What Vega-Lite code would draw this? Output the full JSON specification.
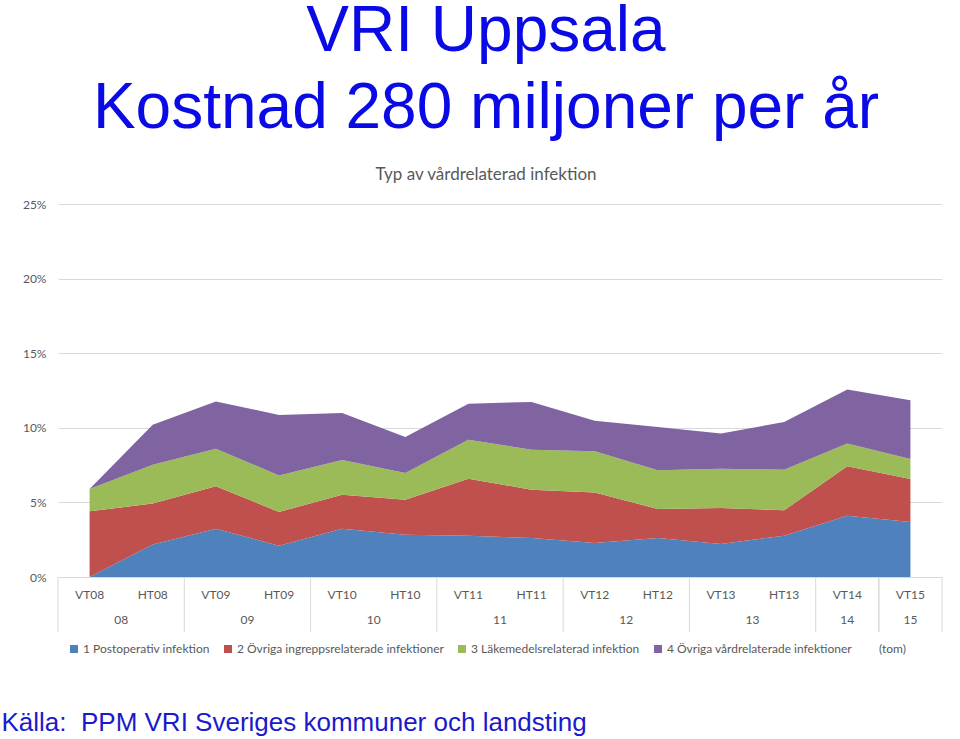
{
  "$schema": "https://vega.github.io/schema/vega-lite/v6.json",
  "background": "white",
  "padding": {"left": 1, "top": 0, "right": 5, "bottom": 0},
  "title": {
    "text": "Källa:\u00a0 PPM VRI Sveriges kommuner och landsting",
    "orient": "bottom",
    "anchor": "start",
    "dx": -21,
    "font": "Liberation Sans",
    "fontSize": 26,
    "fontWeight": "normal",
    "color": "#1a1acc",
    "offset": 45
  },
  "datasets": {
    "vri": [
      {"period": "VT08", "series": "1 Postoperativ infektion", "value": 0},
      {"period": "VT08", "series": "2 Övriga ingreppsrelaterade infektioner", "value": 4.4},
      {"period": "VT08", "series": "3 Läkemedelsrelaterad infektion", "value": 1.5},
      {"period": "VT08", "series": "4 Övriga vårdrelaterade infektioner", "value": 0},
      {"period": "HT08", "series": "1 Postoperativ infektion", "value": 2.17},
      {"period": "HT08", "series": "2 Övriga ingreppsrelaterade infektioner", "value": 2.75},
      {"period": "HT08", "series": "3 Läkemedelsrelaterad infektion", "value": 2.61},
      {"period": "HT08", "series": "4 Övriga vårdrelaterade infektioner", "value": 2.68},
      {"period": "VT09", "series": "1 Postoperativ infektion", "value": 3.24},
      {"period": "VT09", "series": "2 Övriga ingreppsrelaterade infektioner", "value": 2.84},
      {"period": "VT09", "series": "3 Läkemedelsrelaterad infektion", "value": 2.52},
      {"period": "VT09", "series": "4 Övriga vårdrelaterade infektioner", "value": 3.17},
      {"period": "HT09", "series": "1 Postoperativ infektion", "value": 2.1},
      {"period": "HT09", "series": "2 Övriga ingreppsrelaterade infektioner", "value": 2.26},
      {"period": "HT09", "series": "3 Läkemedelsrelaterad infektion", "value": 2.45},
      {"period": "HT09", "series": "4 Övriga vårdrelaterade infektioner", "value": 4.05},
      {"period": "VT10", "series": "1 Postoperativ infektion", "value": 3.24},
      {"period": "VT10", "series": "2 Övriga ingreppsrelaterade infektioner", "value": 2.28},
      {"period": "VT10", "series": "3 Läkemedelsrelaterad infektion", "value": 2.32},
      {"period": "VT10", "series": "4 Övriga vårdrelaterade infektioner", "value": 3.15},
      {"period": "HT10", "series": "1 Postoperativ infektion", "value": 2.84},
      {"period": "HT10", "series": "2 Övriga ingreppsrelaterade infektioner", "value": 2.34},
      {"period": "HT10", "series": "3 Läkemedelsrelaterad infektion", "value": 1.79},
      {"period": "HT10", "series": "4 Övriga vårdrelaterade infektioner", "value": 2.41},
      {"period": "VT11", "series": "1 Postoperativ infektion", "value": 2.77},
      {"period": "VT11", "series": "2 Övriga ingreppsrelaterade infektioner", "value": 3.82},
      {"period": "VT11", "series": "3 Läkemedelsrelaterad infektion", "value": 2.61},
      {"period": "VT11", "series": "4 Övriga vårdrelaterade infektioner", "value": 2.42},
      {"period": "HT11", "series": "1 Postoperativ infektion", "value": 2.61},
      {"period": "HT11", "series": "2 Övriga ingreppsrelaterade infektioner", "value": 3.24},
      {"period": "HT11", "series": "3 Läkemedelsrelaterad infektion", "value": 2.68},
      {"period": "HT11", "series": "4 Övriga vårdrelaterade infektioner", "value": 3.2},
      {"period": "VT12", "series": "1 Postoperativ infektion", "value": 2.28},
      {"period": "VT12", "series": "2 Övriga ingreppsrelaterade infektioner", "value": 3.39},
      {"period": "VT12", "series": "3 Läkemedelsrelaterad infektion", "value": 2.75},
      {"period": "VT12", "series": "4 Övriga vårdrelaterade infektioner", "value": 2.06},
      {"period": "HT12", "series": "1 Postoperativ infektion", "value": 2.61},
      {"period": "HT12", "series": "2 Övriga ingreppsrelaterade infektioner", "value": 1.95},
      {"period": "HT12", "series": "3 Läkemedelsrelaterad infektion", "value": 2.59},
      {"period": "HT12", "series": "4 Övriga vårdrelaterade infektioner", "value": 2.9},
      {"period": "VT13", "series": "1 Postoperativ infektion", "value": 2.21},
      {"period": "VT13", "series": "2 Övriga ingreppsrelaterade infektioner", "value": 2.41},
      {"period": "VT13", "series": "3 Läkemedelsrelaterad infektion", "value": 2.64},
      {"period": "VT13", "series": "4 Övriga vårdrelaterade infektioner", "value": 2.35},
      {"period": "HT13", "series": "1 Postoperativ infektion", "value": 2.77},
      {"period": "HT13", "series": "2 Övriga ingreppsrelaterade infektioner", "value": 1.7},
      {"period": "HT13", "series": "3 Läkemedelsrelaterad infektion", "value": 2.72},
      {"period": "HT13", "series": "4 Övriga vårdrelaterade infektioner", "value": 3.2},
      {"period": "VT14", "series": "1 Postoperativ infektion", "value": 4.11},
      {"period": "VT14", "series": "2 Övriga ingreppsrelaterade infektioner", "value": 3.31},
      {"period": "VT14", "series": "3 Läkemedelsrelaterad infektion", "value": 1.52},
      {"period": "VT14", "series": "4 Övriga vårdrelaterade infektioner", "value": 3.62},
      {"period": "VT15", "series": "1 Postoperativ infektion", "value": 3.69},
      {"period": "VT15", "series": "2 Övriga ingreppsrelaterade infektioner", "value": 2.88},
      {"period": "VT15", "series": "3 Läkemedelsrelaterad infektion", "value": 1.34},
      {"period": "VT15", "series": "4 Övriga vårdrelaterade infektioner", "value": 3.93}
    ],
    "yearsPair": [
      {"period": "VT08", "year": "08"},
      {"period": "VT09", "year": "09"},
      {"period": "VT10", "year": "10"},
      {"period": "VT11", "year": "11"},
      {"period": "VT12", "year": "12"},
      {"period": "VT13", "year": "13"}
    ],
    "yearsSingle": [
      {"period": "VT14", "year": "14"},
      {"period": "VT15", "year": "15"}
    ]
  },
  "vconcat": [
    {
      "width": 884,
      "height": 373,
      "title": {
        "text": ["VRI Uppsala", "Kostnad 280 miljoner per år"],
        "font": "Liberation Sans",
        "fontSize": 64,
        "fontWeight": "normal",
        "lineHeight": 77,
        "color": "#0a0ae6",
        "anchor": "middle",
        "dx": -14,
        "subtitle": "Typ av vårdrelaterad infektion",
        "subtitleFont": "Lato",
        "subtitleFontSize": 17,
        "subtitleColor": "#595959",
        "subtitlePadding": 26,
        "offset": 15
      },
      "layer": [
        {
          "data": {"name": "vri"},
          "mark": {"type": "area"},
          "encoding": {
            "x": {
              "field": "period",
              "type": "nominal",
              "bandPosition": 0.5,
              "scale": {
                "type": "band",
                "domain": ["VT08", "HT08", "VT09", "HT09", "VT10", "HT10", "VT11", "HT11", "VT12", "HT12", "VT13", "HT13", "VT14", "VT15"],
                "paddingInner": 0,
                "paddingOuter": 0
              },
              "axis": {
                "orient": "bottom",
                "title": null,
                "labelAngle": 0,
                "ticks": false,
                "domain": false,
                "grid": false,
                "labelPadding": 12,
                "labelFont": "Lato",
                "labelFontSize": 12,
                "labelColor": "#595959"
              }
            },
            "y": {
              "field": "value",
              "type": "quantitative",
              "stack": "zero",
              "scale": {"domain": [0, 25], "nice": false},
              "axis": {
                "title": null,
                "values": [0, 5, 10, 15, 20, 25],
                "labelExpr": "datum.value + '%'",
                "grid": true,
                "gridColor": "#d9d9d9",
                "domain": false,
                "ticks": false,
                "labelPadding": 12,
                "labelFont": "Lato",
                "labelFontSize": 12,
                "labelColor": "#595959"
              }
            },
            "order": {"field": "series", "sort": "ascending"},
            "color": {
              "field": "series",
              "type": "nominal",
              "scale": {
                "domain": ["1 Postoperativ infektion", "2 Övriga ingreppsrelaterade infektioner", "3 Läkemedelsrelaterad infektion", "4 Övriga vårdrelaterade infektioner", "(tom)"],
                "range": ["#4f81bd", "#c0504d", "#9bbb59", "#8064a2", "#ffffff"]
              },
              "legend": {
                "orient": "bottom",
                "direction": "horizontal",
                "title": null,
                "symbolType": "square",
                "symbolSize": 64,
                "labelFont": "Lato",
                "labelFontSize": 12,
                "labelColor": "#595959",
                "labelLimit": 0,
                "columnPadding": 12,
                "labelOffset": 3,
                "padding": 10,
                "offset": 0
              }
            }
          }
        },
        {
          "data": {"name": "yearsPair"},
          "mark": {"type": "rule", "color": "#d9d9d9", "strokeWidth": 1},
          "encoding": {
            "x": {"field": "period", "type": "nominal", "bandPosition": 0, "axis": {"title": null}},
            "y": {"datum": 0},
            "y2": {"datum": -3.69}
          }
        },
        {
          "data": {"name": "yearsSingle"},
          "mark": {"type": "rule", "color": "#d9d9d9", "strokeWidth": 1},
          "encoding": {
            "x": {"field": "period", "type": "nominal", "bandPosition": 0, "axis": {"title": null}},
            "y": {"datum": 0},
            "y2": {"datum": -3.69}
          }
        },
        {
          "data": {"name": "yearsSingle"},
          "mark": {"type": "rule", "color": "#d9d9d9", "strokeWidth": 1},
          "encoding": {
            "x": {"field": "period", "type": "nominal", "bandPosition": 1, "axis": {"title": null}},
            "y": {"datum": 0},
            "y2": {"datum": -3.69}
          }
        },
        {
          "data": {"name": "yearsPair"},
          "mark": {"type": "text", "font": "Lato", "fontSize": 12, "color": "#595959", "baseline": "middle", "align": "center"},
          "encoding": {
            "x": {"field": "period", "type": "nominal", "bandPosition": 1, "axis": {"title": null}},
            "y": {"datum": -2.88},
            "text": {"field": "year", "type": "nominal"}
          }
        },
        {
          "data": {"name": "yearsSingle"},
          "mark": {"type": "text", "font": "Lato", "fontSize": 12, "color": "#595959", "baseline": "middle", "align": "center"},
          "encoding": {
            "x": {"field": "period", "type": "nominal", "bandPosition": 0.5, "axis": {"title": null}},
            "y": {"datum": -2.88},
            "text": {"field": "year", "type": "nominal"}
          }
        }
      ]
    }
  ],
  "config": {"view": {"stroke": null}, "font": "Lato"}
}
